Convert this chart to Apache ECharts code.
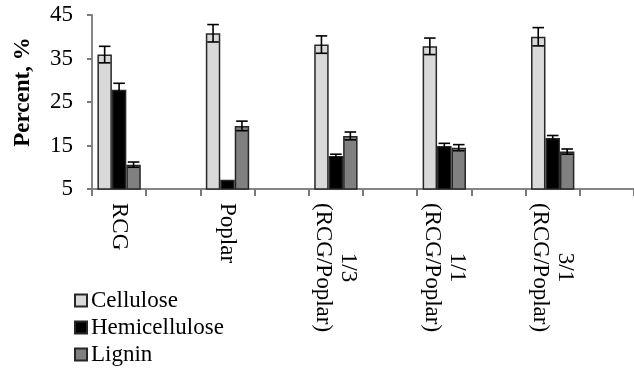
<!DOCTYPE html>
<html>
<head>
<meta charset="utf-8">
<script src="https://cdn.jsdelivr.net/npm/echarts@6/dist/echarts.min.js"></script>
<style>
  html, body { margin: 0; padding: 0; background: #fff; }
  #chart { width: 634px; height: 370px; }
</style>
</head>
<body>
<div id="chart"></div>
<script>
var groups = ['RCG', 'Poplar', '1/3\n(RCG/Poplar)', '1/1\n(RCG/Poplar)', '3/1\n(RCG/Poplar)']
var cellulose = [35.9, 40.8, 38.2, 37.8, 40.0]
var celluloseErr = [1.9, 2.0, 2.0, 1.9, 2.1]
var hemicellulose = [27.8, 7.1, 12.6, 14.9, 16.7]
var hemicelluloseErr = [1.5, 0, 0.4, 0.6, 0.6]
var lignin = [10.6, 19.5, 17.2, 14.5, 13.6]
var ligninErr = [0.6, 1.1, 0.9, 0.7, 0.6]
var yTicks = [5, 15, 25, 35, 45]

var FONT = 'Liberation Serif'
var AXIS_GREY = '#868686'

// excel sheet had a blank row after every group, so every other slot is empty
var slots = []
groups.forEach(function(g, i) { slots.push(g, ' '.repeat(i + 1)) })

function toSlots(arr) {
  var out = []
  arr.forEach(function(v) { out.push(v, null) })
  return out
}

function errData(vals, errs) {
  return vals.map(function(v, i) { return [i * 2, v, errs[i]] })
}

function errSeries(vals, errs, idx) {
  return {
    type: 'custom',
    z: 5,
    silent: true,
    data: errData(vals, errs),
    renderItem: function(params, api) {
      var err = api.value(2)
      if (!err) return
      var x = api.value(0), v = api.value(1)
      var band = api.size([1, 0])[0]
      var barW = band * 0.8 / 3
      var cx = api.coord([x, v])[0] + (idx - 1) * barW
      var hi = api.coord([x, v + err])[1]
      var lo = api.coord([x, v - err])[1]
      var half = barW * 0.4
      var st = { stroke: '#000', lineWidth: 1.6 }
      return {
        type: 'group',
        children: [
          { type: 'line', shape: { x1: cx, y1: hi, x2: cx, y2: lo }, style: st },
          { type: 'line', shape: { x1: cx - half, y1: hi, x2: cx + half, y2: hi }, style: st },
          { type: 'line', shape: { x1: cx - half, y1: lo, x2: cx + half, y2: lo }, style: st }
        ]
      }
    }
  }
}

function barSeries(name, vals, color) {
  return {
    name: name,
    type: 'bar',
    data: toSlots(vals),
    barGap: '0%',
    barCategoryGap: '20%',
    itemStyle: { color: color, borderColor: '#262626', borderWidth: 1.5 }
  }
}

var chart = echarts.init(document.getElementById('chart'))
chart.setOption({
  animation: false,
  backgroundColor: '#fff',
  textStyle: { fontFamily: FONT, color: '#000' },
  grid: { left: 92, right: 0, top: 15, bottom: 181, containLabel: false, outerBoundsMode: 'none' },
  legend: {
    orient: 'vertical',
    left: 74,
    top: 289,
    padding: 0,
    itemWidth: 12,
    itemHeight: 12,
    itemGap: 4,
    icon: 'rect',
    data: ['Cellulose', 'Hemicellulose', 'Lignin'],
    textStyle: { fontFamily: FONT, fontSize: 23, color: '#000', padding: [0, 0, 0, -1] }
  },
  xAxis: {
    type: 'category',
    data: slots,
    boundaryGap: true,
    axisLine: { lineStyle: { color: AXIS_GREY, width: 2 } },
    axisTick: { show: true, inside: false, length: 7, interval: 0, lineStyle: { color: '#7a7a7a', width: 2 } },
    axisLabel: {
      interval: 0,
      rotate: -90,
      margin: 14,
      color: '#000',
      fontFamily: FONT,
      fontSize: 23,
      formatter: function(v) {
        return v.split('\n').map(function(s) { return '{c|' + s.trim() + '}' }).join('\n')
      },
      rich: { c: { align: 'center', fontFamily: FONT, fontSize: 23, lineHeight: 25, color: '#000' } }
    }
  },
  yAxis: {
    type: 'value',
    min: yTicks[0],
    max: yTicks[yTicks.length - 1],
    interval: 10,
    name: 'Percent, %',
    nameLocation: 'middle',
    nameGap: 57,
    nameTextStyle: { fontFamily: FONT, fontSize: 23, fontWeight: 'bold', color: '#000', padding: [0, 0, 0, 20] },
    axisLine: { show: true, lineStyle: { color: AXIS_GREY, width: 2 } },
    axisTick: { show: true, inside: false, length: 5, lineStyle: { color: '#7a7a7a', width: 2 } },
    axisLabel: { show: true, margin: 19, color: '#000', fontFamily: FONT, fontSize: 23 },
    splitLine: { show: false }
  },
  series: [
    barSeries('Cellulose', cellulose, '#d9d9d9'),
    barSeries('Hemicellulose', hemicellulose, '#000000'),
    barSeries('Lignin', lignin, '#808080'),
    errSeries(cellulose, celluloseErr, 0),
    errSeries(hemicellulose, hemicelluloseErr, 1),
    errSeries(lignin, ligninErr, 2)
  ]
})
</script>
</body>
</html>
